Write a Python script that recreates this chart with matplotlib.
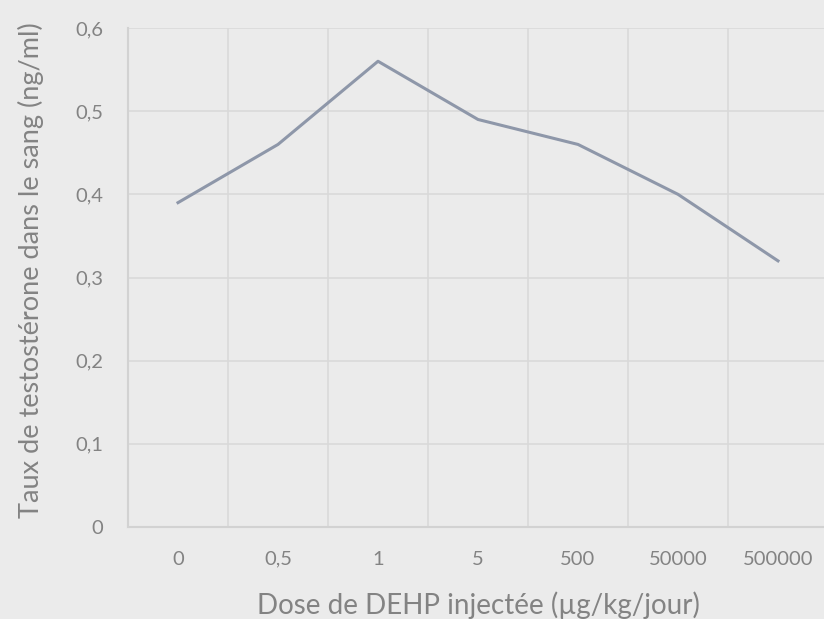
#!/usr/bin/env python3

import matplotlib
matplotlib.use("Agg")
import matplotlib.pyplot as plt
import numpy as np

#Data
doses = ['0', '0,5', '1', '5', '500', '50000', '500000']
testosterone = [0.39, 0.46, 0.56, 0.49, 0.46, 0.40, 0.32]
yticks = [0, 0.1, 0.2, 0.3, 0.4, 0.5, 0.6]
ylabels = ['0', '0,1', '0,2', '0,3', '0,4', '0,5', '0,6']

bg = '#ebebeb'
grid = '#d9d9d9'
text = '#838383'

plt.rcParams['font.family'] = ['Lato', 'DejaVu Sans']

fig = plt.figure(figsize=(8.24, 6.19), dpi=100, facecolor=bg)
ax = fig.add_axes([128/824, 1-527/619, 700/824, 499/619])
ax.set_facecolor(bg)

x = np.arange(len(doses))
ax.plot(x, testosterone, color='#8e97a9', linewidth=2.2)

#Axes
ax.set_xlim(-0.5, len(doses) - 0.5)
ax.set_ylim(0, 0.6)
ax.set_xticks(x)
ax.set_xticklabels(doses)
ax.set_yticks(yticks)
ax.set_yticklabels(ylabels)
ax.set_xticks(x[:-1] + 0.5, minor=True)
ax.tick_params(which='both', length=0, colors=text, labelsize=14.5)
ax.tick_params(axis='x', pad=17)
ax.tick_params(axis='y', pad=18)

#Grid
ax.grid(axis='y', color=grid, linewidth=1.2)
ax.grid(axis='x', which='minor', color=grid, linewidth=1.2)
ax.set_axisbelow(True)
for s in ['top', 'right']:
    ax.spines[s].set_visible(False)
for s in ['left', 'bottom']:
    ax.spines[s].set_color('#d2d2d2')
    ax.spines[s].set_linewidth(1.5)

#Labels
ax.set_xlabel('Dose de DEHP injectée (µg/kg/jour)', color=text, fontsize=20, labelpad=17)
ax.set_ylabel('Taux de testostérone dans le sang (ng/ml)', color=text, fontsize=19.5)
ax.yaxis.set_label_coords(-0.12, 0.515)

fig.savefig('out.png', dpi=100, facecolor=bg)
